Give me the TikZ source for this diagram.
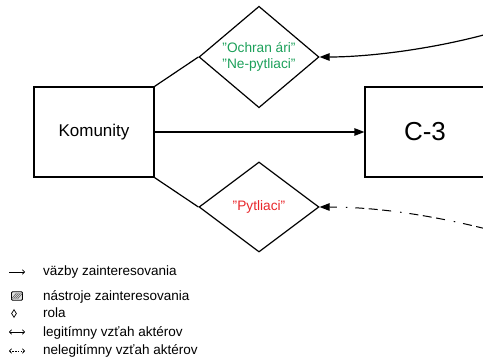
\documentclass[tikz,border=0pt]{standalone}
\usepackage{fontspec}
\setmainfont{Liberation Sans}
\usetikzlibrary{shapes.geometric,arrows.meta}
\definecolor{rolegreen}{HTML}{1CA05A}
\definecolor{rolered}{HTML}{E8262A}
\tikzset{
  actor/.style={draw, line width=1.2pt, rectangle, minimum width=120pt, minimum height=90pt, inner sep=0pt},
  rolebox/.style={draw, line width=1.2pt, diamond, minimum width=120pt, minimum height=90pt, inner sep=0pt, align=center, font=\fontsize{13.7}{15.5}\selectfont},
  link/.style={line width=1.2pt},
  bigtip/.style={-{Triangle[length=10pt,width=7.5pt]}},
  legendtext/.style={anchor=base west, inner sep=0pt, font=\fontsize{13.5}{15}\selectfont},
  legendline/.style={line width=0.7pt},
}
\begin{document}
\begin{tikzpicture}[x=1pt,y=-1pt]
\useasboundingbox (0,0) rectangle (483,358);

% actors
\node[actor, font=\fontsize{17}{20}\selectfont] (kom) at (94,132) {Komunity};
\node[actor, font=\fontsize{26}{30}\selectfont] (c3) at (425,132) {C-3};

% roles
\node[rolebox, text=rolegreen] (ochr) at (259,57) {"Ochran ári"\\"Ne-pytliaci"};
\node[rolebox, text=rolered] (pyt) at (259,207) {"Pytliaci"};

% links from the community to its roles
\draw[link] (kom.north east) -- (ochr.west);
\draw[link] (kom.south east) -- (pyt.west);
\draw[link, bigtip] (kom.east) -- (c3.west);

% relations entering from outside
\coordinate (legin) at (498,31);
\coordinate (illin) at (498,232);
\draw[link, bigtip] (legin) .. controls (440,48) and (372,57) .. (ochr.east);
\draw[link, bigtip, line width=1pt,
      dash pattern=on 9pt off 4.5pt on 9pt off 4.5pt on 9pt off 8pt on 1.5pt off 9pt]
  (illin) .. controls (430,214) and (372,207) .. (pyt.east);

% legend
\coordinate (la1) at (9,272);  \coordinate (lb1) at (25,272);
\draw[legendline, -{To[length=3pt,width=5pt]}] (la1) -- (lb1);
\node[legendtext] (t1) at (43,276) {väzby zainteresovania};

\node[draw, line width=0.8pt, rounded corners=1pt, fill=gray!25, minimum width=11pt, minimum height=8.5pt, inner sep=0pt] (ic2) at (17,296) {};
\foreach \k in {-3,-1,1,3}
  \draw[gray!60!black, line width=0.5pt] ([xshift=\k pt-2.5pt, yshift=-3pt]ic2.center) -- ([xshift=\k pt+2.5pt, yshift=3pt]ic2.center);
\node[legendtext] (t2) at (43,300.7) {nástroje zainteresovania};

\node[draw, line width=0.7pt, diamond, minimum width=5pt, minimum height=8pt, inner sep=0pt] (ic3) at (14,313.5) {};
\node[legendtext] (t3) at (43,318) {rola};

\coordinate (la4) at (9,332);  \coordinate (lb4) at (25,332);
\draw[legendline, {To[length=3pt,width=5pt]}-{To[length=3pt,width=5pt]}] (la4) -- (lb4);
\node[legendtext] (t4) at (43,336.5) {legitímny vzťah aktérov};

\coordinate (la5) at (9,351);  \coordinate (lb5) at (25,351);
\draw[legendline, dash pattern=on 1.5pt off 1.2pt, {To[length=3pt,width=5pt]}-{To[length=3pt,width=5pt]}] (la5) -- (lb5);
\node[legendtext] (t5) at (43,355) {nelegitímny vzťah aktérov};
\end{tikzpicture}
\end{document}
